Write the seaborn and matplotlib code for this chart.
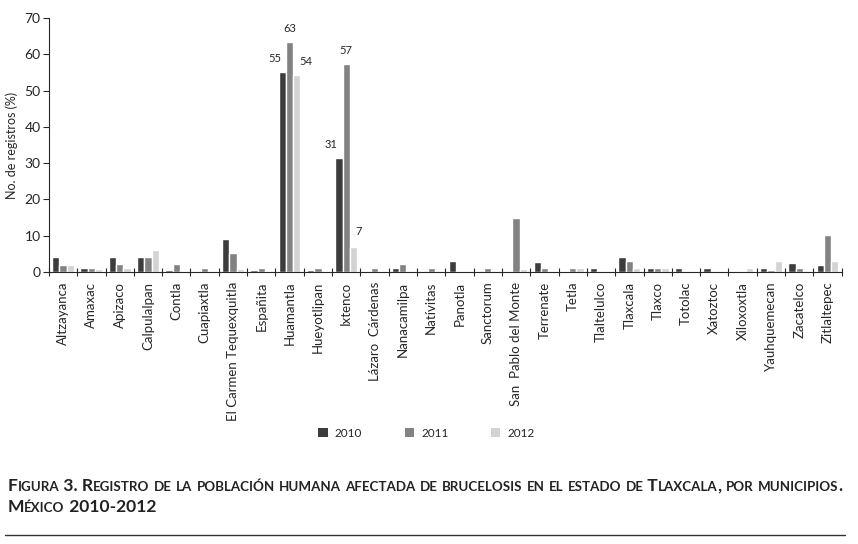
import numpy as np
import pandas as pd
import seaborn as sns
import matplotlib.pyplot as plt
from matplotlib.patches import Patch

# Datos (porcentaje de registros por municipio)
municipios = ['Altzayanca', 'Amaxac', 'Apizaco', 'Calpulalpan', 'Contla', 'Cuapiaxtla',
              'El Carmen Tequexquitla', 'Españita', 'Huamantla', 'Hueyotlipan', 'Ixtenco',
              'Lázaro  Cárdenas', 'Nanacamilpa', 'Natívitas', 'Panotla', 'Sanctorum',
              'San  Pablo del Monte', 'Terrenate', 'Tetla', 'Tlaltelulco', 'Tlaxcala',
              'Tlaxco', 'Totolac', 'Xatoztoc', 'Xiloxoxtla', 'Yauhquemecan', 'Zacatelco',
              'Zitlaltepec']
v2010 = [4.1, 1.1, 4.1, 4.1, 0.6, 0.3, 9.1, 0.5, 55, 0.5, 31.3, 0.4, 1.1, 0.4, 3.0,
         0.4, 0.4, 2.8, 0.4, 1.1, 4.1, 1.1, 1.1, 1.1, 0.3, 1.1, 2.5, 1.9]
v2011 = [1.9, 1.1, 2.2, 4.1, 2.2, 1.2, 5.2, 1.1, 63.3, 1.1, 57.2, 1.1, 2.2, 1.1, 0.3,
         1.1, 15.0, 1.1, 1.1, 0.3, 3.0, 1.1, 0.4, 0.4, 0.3, 0.6, 1.1, 10.2]
v2012 = [1.9, 0.8, 1.2, 6.1, 0.3, 0.3, 0.9, 0.3, 54.2, 0.2, 7.0, 0.2, 0.3, 0.3, 0.3,
         0.2, 0.9, 0.3, 1.1, 0.3, 1.1, 1.1, 0.4, 0.4, 1.1, 3.0, 0.4, 3.0]
anios = ['2010', '2011', '2012']
colores = ['#3c3c3c', '#828282', '#d3d3d3']

# etiquetas de valor: (municipio, año, texto, desplazamiento en pixeles)
etiquetas = [('Huamantla', 0, '55', (-7, 8)), ('Huamantla', 1, '63', (0, 8)),
             ('Huamantla', 2, '54', (9, 8)), ('Ixtenco', 0, '31', (-8, 8)),
             ('Ixtenco', 1, '57', (0, 8)), ('Ixtenco', 2, '7', (5, 10))]

df = pd.DataFrame({
    'Municipio': municipios * 3,
    'Año': np.repeat(anios, len(municipios)),
    'Valor': v2010 + v2011 + v2012,
})

sns.set_style('ticks')
plt.rcParams['font.family'] = ['Lato', 'DejaVu Sans']

fig = plt.figure(figsize=(8.58, 5.44), dpi=100)
ax = fig.add_axes([0.057, 0.5, 0.924, 0.467])

sns.barplot(data=df, x='Municipio', y='Valor', hue='Año', palette=colores,
            width=0.77, saturation=1, ax=ax, legend=False)

for nombre, k, texto, off in etiquetas:
    j = municipios.index(nombre)
    barra = ax.containers[k][j]
    ax.annotate(texto, (barra.get_x() + barra.get_width() / 2, barra.get_height()),
                xytext=off, textcoords='offset pixels', ha='center', va='bottom',
                fontsize=8)

ax.set_ylim(0, 70)
ax.set_xlim(-0.5, len(municipios) - 0.5)
ax.set_yticks(range(0, 71, 10))
ax.set_xticks(range(len(municipios)))
ax.set_xticklabels(municipios, rotation=90, fontsize=9.5)
ax.set_xticks(np.arange(-0.5, len(municipios), 1), minor=True)
ax.tick_params(axis='x', which='major', length=0, pad=7)
ax.tick_params(axis='x', which='minor', length=6, direction='inout', width=0.8)
ax.tick_params(axis='y', length=4, width=0.8, labelsize=10, pad=2)
ax.set_xlabel('')
ax.set_ylabel('No. de registros (%)', fontsize=9, labelpad=5)
sns.despine(ax=ax)
for s in ['left', 'bottom']:
    ax.spines[s].set_linewidth(0.8)

# leyenda abajo
manijas = [Patch(facecolor=c, edgecolor='none') for c in colores]
fig.legend(manijas, anios, loc='center', bbox_to_anchor=(0.497, 0.204), ncol=3,
           frameon=False, fontsize=8.5, handlelength=0.8, handleheight=0.9,
           handletextpad=0.6, columnspacing=3.6)

# pie de figura en versalitas
def versalitas(x, y, texto, grande=12.6, chica=9.6):
    fig.canvas.draw()
    r = fig.canvas.get_renderer()
    trozos = []
    actual = ''
    es_min = None
    for ch in texto:
        m = ch.islower()
        if es_min is None or m == es_min:
            actual += ch
        else:
            trozos.append((actual, es_min))
            actual = ch
        es_min = m
    trozos.append((actual, es_min))
    px = x * fig.bbox.width
    for t, m in trozos:
        txt = fig.text(px / fig.bbox.width, y, t.upper() if m else t,
                       fontsize=chica if m else grande, fontweight='bold',
                       color='#222222', ha='left', va='baseline')
        px += txt.get_window_extent(r).width

versalitas(0.009, 0.098, 'Figura 3. Registro de la población humana afectada de brucelosis en el estado de Tlaxcala, por municipios.')
versalitas(0.009, 0.058, 'México 2010-2012')

fig.add_artist(plt.Line2D([0.006, 0.985], [0.017, 0.017], color='#333333', lw=1))

fig.savefig('out.png', dpi=100)
